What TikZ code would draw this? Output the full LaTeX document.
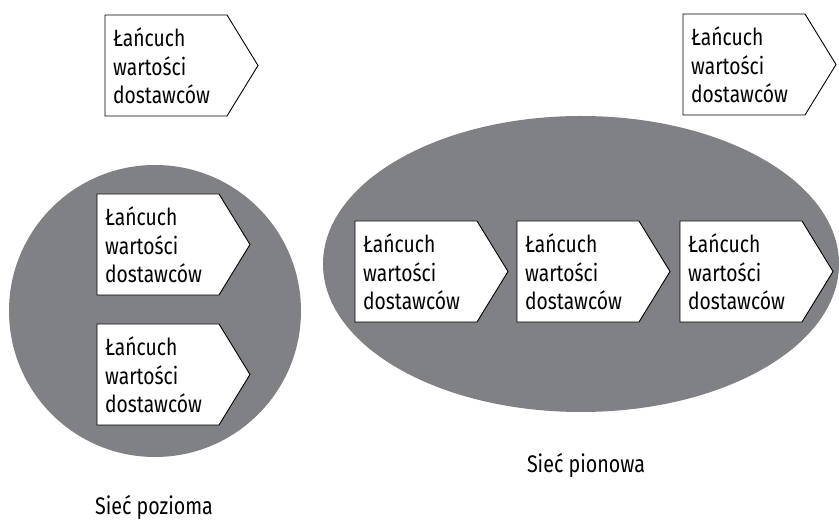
\documentclass[tikz,border=0pt]{standalone}
\usepackage{fontspec}
\setmainfont[FakeStretch=0.82]{Fira Sans}
\usetikzlibrary{shapes.geometric}
\definecolor{netgray}{RGB}{128,129,133}
\tikzset{
  chainline/.style={draw=black, line width=0.9pt, fill=white, line join=miter},
  chaintext/.style={anchor=base west, minimum width=122pt,
    inner sep=0pt, text width=106pt, align=left,
    font=\fontsize{23.5}{28.5}\selectfont},
  netshape/.style={fill=netgray, draw=none},
  netlabel/.style={font=\fontsize{24}{28}\selectfont}
}
\newcommand{\chainbox}[3]{%
  \draw[chainline] (#2,#3) -- ++(122,0) -- ++(31,50.5) -- ++(-31,50.5) -- ++(-122,0) -- cycle;
  \node[chaintext] (#1) at (#2,#3+32) {Łańcuch\\wartości\\dostawców};}
\begin{document}
\begin{tikzpicture}[x=1pt, y=-1pt]
\useasboundingbox (0,0) rectangle (839,521);
\fill[white] (0,0) rectangle (839,521);
% networks
\node[netshape, circle, minimum size=292pt, inner sep=0pt] (poz) at (155,311) {};
\node[netshape, ellipse, minimum width=516pt, minimum height=296pt, inner sep=0pt] (pion) at (581,264) {};
% chains
\chainbox{c1}{105}{15}
\chainbox{c2}{683}{14}
\chainbox{c3}{97}{194}
\chainbox{c4}{97}{324}
\chainbox{c5}{355}{221}
\chainbox{c6}{517}{221}
\chainbox{c7}{680}{221}
% labels
\node[netlabel] (lpoz) at (154,507) {Sieć pozioma};
\node[netlabel] (lpion) at (586,465) {Sieć pionowa};
\end{tikzpicture}
\end{document}
